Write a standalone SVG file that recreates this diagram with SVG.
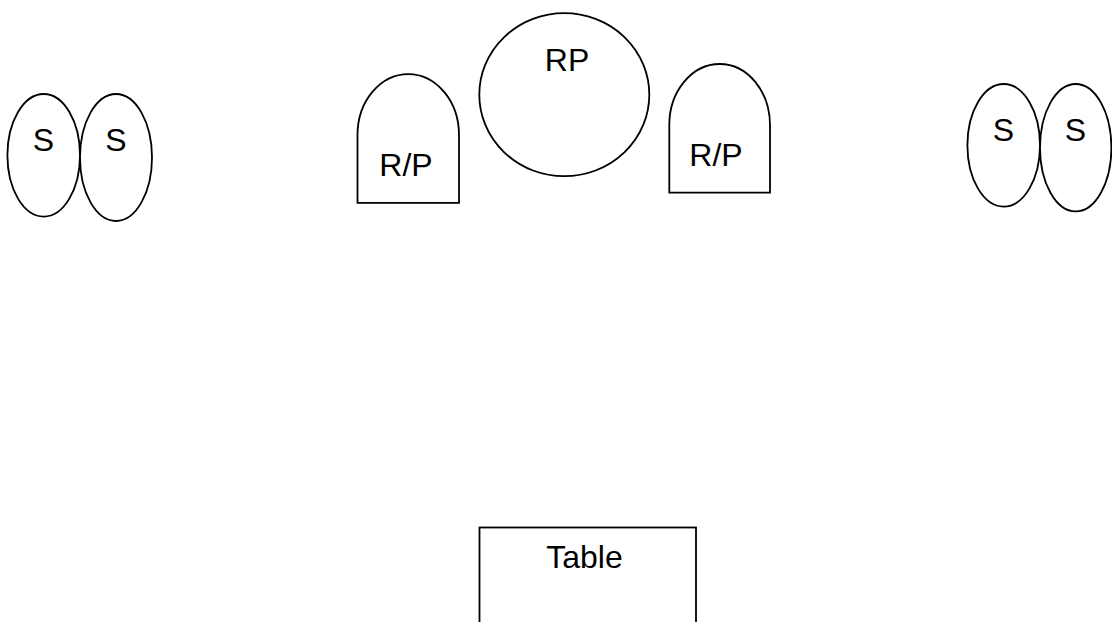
<svg xmlns="http://www.w3.org/2000/svg" width="1112" height="622" viewBox="0 0 1112 622">
<style>
.s{fill:#fff;stroke:#000;stroke-width:1.8}
.t{font-family:"Liberation Sans",Arial,sans-serif;font-size:32px;fill:#000;text-anchor:middle}
</style>
<rect width="1112" height="622" fill="#fff"/>
<g id="seat-l1"><ellipse class="s" cx="43.7" cy="155.3" rx="36.3" ry="61.3"/><text class="t" x="43.5" y="150.5">S</text></g>
<g id="seat-l2"><ellipse class="s" cx="116" cy="157.5" rx="36" ry="63.5"/><text class="t" x="116" y="150.5">S</text></g>
<g id="rp-left"><path class="s" d="M357.5,202.8 V135 A50.75,61 0 0 1 459,135 V202.8 Z"/><text class="t" x="406" y="176">R/P</text></g>
<g id="rp-center"><ellipse class="s" cx="564.3" cy="94.7" rx="85" ry="81.5"/><text class="t" x="567" y="70.5">RP</text></g>
<g id="rp-right"><path class="s" d="M669.3,192.7 V125 A50.35,61 0 0 1 770,125 V192.7 Z"/><text class="t" x="716" y="165.5">R/P</text></g>
<g id="seat-r1"><ellipse class="s" cx="1003.7" cy="145.3" rx="36.3" ry="61.3"/><text class="t" x="1003.5" y="140.5">S</text></g>
<g id="seat-r2"><ellipse class="s" cx="1075.7" cy="147.7" rx="35.7" ry="63.7"/><text class="t" x="1075.5" y="140.5">S</text></g>
<g id="table"><rect class="s" x="479.5" y="527.5" width="216.5" height="110"/><text class="t" x="584.5" y="567.5">Table</text></g>
<g id="connectors"></g>
</svg>
